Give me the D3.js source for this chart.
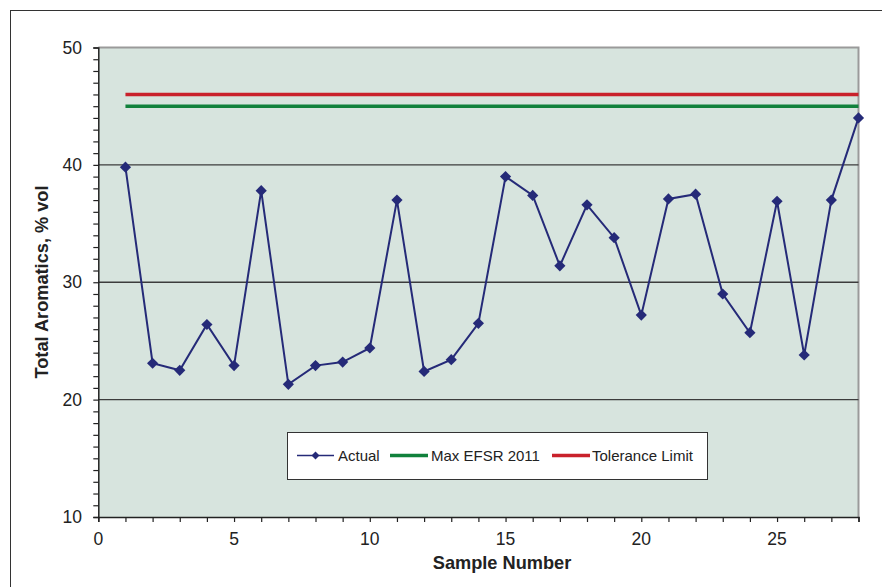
<!DOCTYPE html>
<html>
<head>
<meta charset="utf-8">
<script src="https://cdn.jsdelivr.net/npm/d3@7"></script>
<style>
  html, body { margin: 0; padding: 0; background: #ffffff; }
  svg { display: block; font-family: "Liberation Sans", Arial, sans-serif; }
</style>
</head>
<body>
<svg id="chart" width="882" height="587"></svg>
<script>
// Sample numbers and measured total aromatics (% vol)
const samples = d3.range(1, 29);
const actual = [39.8, 23.1, 22.5, 26.4, 22.9, 37.8, 21.3, 22.9, 23.2, 24.4,
                37.0, 22.4, 23.4, 26.5, 39.0, 37.4, 31.4, 36.6, 33.8, 27.2,
                37.1, 37.5, 29.0, 25.7, 36.9, 23.8, 37.0, 44.0];
// Specification limits
const maxEfsr2011 = 45;
const toleranceLimit = 46;
const xTicks = [0, 5, 10, 15, 20, 25];
const yTicks = [10, 20, 30, 40, 50];
const seriesNames = ["Actual", "Max EFSR 2011", "Tolerance Limit"];

const colors = { actual: "#252a78", max: "#11813c", tol: "#c9212b" };

const svg = d3.select("#chart");
const plot = { left: 98.3, right: 858.5, top: 47.5, bottom: 517 };

const x = d3.scaleLinear().domain([0, 28]).range([plot.left, plot.right]);
const y = d3.scaleLinear().domain([10, 50]).range([plot.bottom, plot.top]);

// Outer chart frame
svg.append("rect")
  .attr("x", 10.5).attr("y", 10.5)
  .attr("width", 900).attr("height", 600)
  .attr("fill", "#ffffff").attr("stroke", "#333333").attr("stroke-width", 1);

// Plot area background
svg.append("rect")
  .attr("x", plot.left).attr("y", plot.top)
  .attr("width", plot.right - plot.left).attr("height", plot.bottom - plot.top)
  .attr("fill", "#d7e4de");

// Top and right border of the plot area
svg.append("path")
  .attr("d", `M${plot.left},${plot.top}H${plot.right}V${plot.bottom}`)
  .attr("fill", "none").attr("stroke", "#9a9a9a").attr("stroke-width", 2);

// Horizontal gridlines
svg.append("g").selectAll("line")
  .data(yTicks.filter(v => v > 10 && v < 50))
  .join("line")
  .attr("x1", plot.left).attr("x2", plot.right)
  .attr("y1", d => y(d)).attr("y2", d => y(d))
  .attr("stroke", "#3c3c3c").attr("stroke-width", 1.3);

// Y axis with minor ticks every unit
const yAxis = svg.append("g")
  .attr("transform", `translate(${plot.left},0)`)
  .call(d3.axisLeft(y).tickValues(d3.range(10, 51, 1)).tickSize(5).tickFormat(""));
yAxis.select(".domain").attr("stroke", "#222").attr("stroke-width", 1.5);
yAxis.selectAll(".tick line").attr("stroke", "#222").attr("stroke-width", 1.2);

svg.append("g").selectAll("text")
  .data(yTicks).join("text")
  .attr("x", 82).attr("y", d => y(d) + 6)
  .attr("text-anchor", "end")
  .attr("font-size", 17.5).attr("fill", "#222")
  .text(d => d);

// X axis with ticks every sample
const xAxis = svg.append("g")
  .attr("transform", `translate(0,${plot.bottom})`)
  .call(d3.axisBottom(x).tickValues(d3.range(0, 29, 1)).tickSize(5).tickFormat(""));
xAxis.select(".domain").attr("stroke", "#222").attr("stroke-width", 1.5);
xAxis.selectAll(".tick line").attr("stroke", "#222").attr("stroke-width", 1.2);

svg.append("g").selectAll("text")
  .data(xTicks).join("text")
  .attr("x", d => x(d)).attr("y", 545)
  .attr("text-anchor", "middle")
  .attr("font-size", 17.5).attr("fill", "#222")
  .text(d => d);

// Axis titles
svg.append("text")
  .attr("x", 502).attr("y", 569)
  .attr("text-anchor", "middle")
  .attr("font-size", 18.2).attr("font-weight", "bold").attr("fill", "#222")
  .text("Sample Number");

svg.append("text")
  .attr("transform", "translate(48,282) rotate(-90)")
  .attr("text-anchor", "middle")
  .attr("font-size", 18.2).attr("font-weight", "bold").attr("fill", "#222")
  .text("Total Aromatics, % vol");

// Limit lines
const limits = [
  { value: toleranceLimit, color: colors.tol },
  { value: maxEfsr2011, color: colors.max }
];
svg.append("g").selectAll("line")
  .data(limits).join("line")
  .attr("x1", x(samples[0])).attr("x2", x(samples[samples.length - 1]))
  .attr("y1", d => y(d.value)).attr("y2", d => y(d.value))
  .attr("stroke", d => d.color).attr("stroke-width", 3.5);

// Actual series
const line = d3.line().x((d, i) => x(samples[i])).y(d => y(d));
svg.append("path")
  .datum(actual)
  .attr("d", line)
  .attr("fill", "none").attr("stroke", colors.actual).attr("stroke-width", 2);

const diamond = d3.symbol().type(d3.symbolDiamond2).size(80);
svg.append("g").selectAll("path")
  .data(actual).join("path")
  .attr("transform", (d, i) => `translate(${x(samples[i])},${y(d)})`)
  .attr("d", diamond)
  .attr("fill", colors.actual);

// Legend
const legend = svg.append("g");
legend.append("rect")
  .attr("x", 287.5).attr("y", 432.5).attr("width", 420).attr("height", 47)
  .attr("fill", "#ffffff").attr("stroke", "#333").attr("stroke-width", 1);

const legendItems = [
  { name: seriesNames[0], color: colors.actual, x1: 297, x2: 334, tx: 338, marker: true, w: 1.5 },
  { name: seriesNames[1], color: colors.max, x1: 390, x2: 428, tx: 431, marker: false, w: 3.5 },
  { name: seriesNames[2], color: colors.tol, x1: 552, x2: 590, tx: 592, marker: false, w: 3.5 }
];
const ly = 455.5;
legendItems.forEach(it => {
  legend.append("line")
    .attr("x1", it.x1).attr("x2", it.x2).attr("y1", ly).attr("y2", ly)
    .attr("stroke", it.color).attr("stroke-width", it.w);
  if (it.marker) {
    legend.append("path")
      .attr("transform", `translate(${(it.x1 + it.x2) / 2},${ly})`)
      .attr("d", d3.symbol().type(d3.symbolDiamond2).size(40))
      .attr("fill", it.color);
  }
  legend.append("text")
    .attr("x", it.tx).attr("y", ly + 5.5)
    .attr("font-size", 15).attr("fill", "#222")
    .text(it.name);
});
</script>
</body>
</html>
